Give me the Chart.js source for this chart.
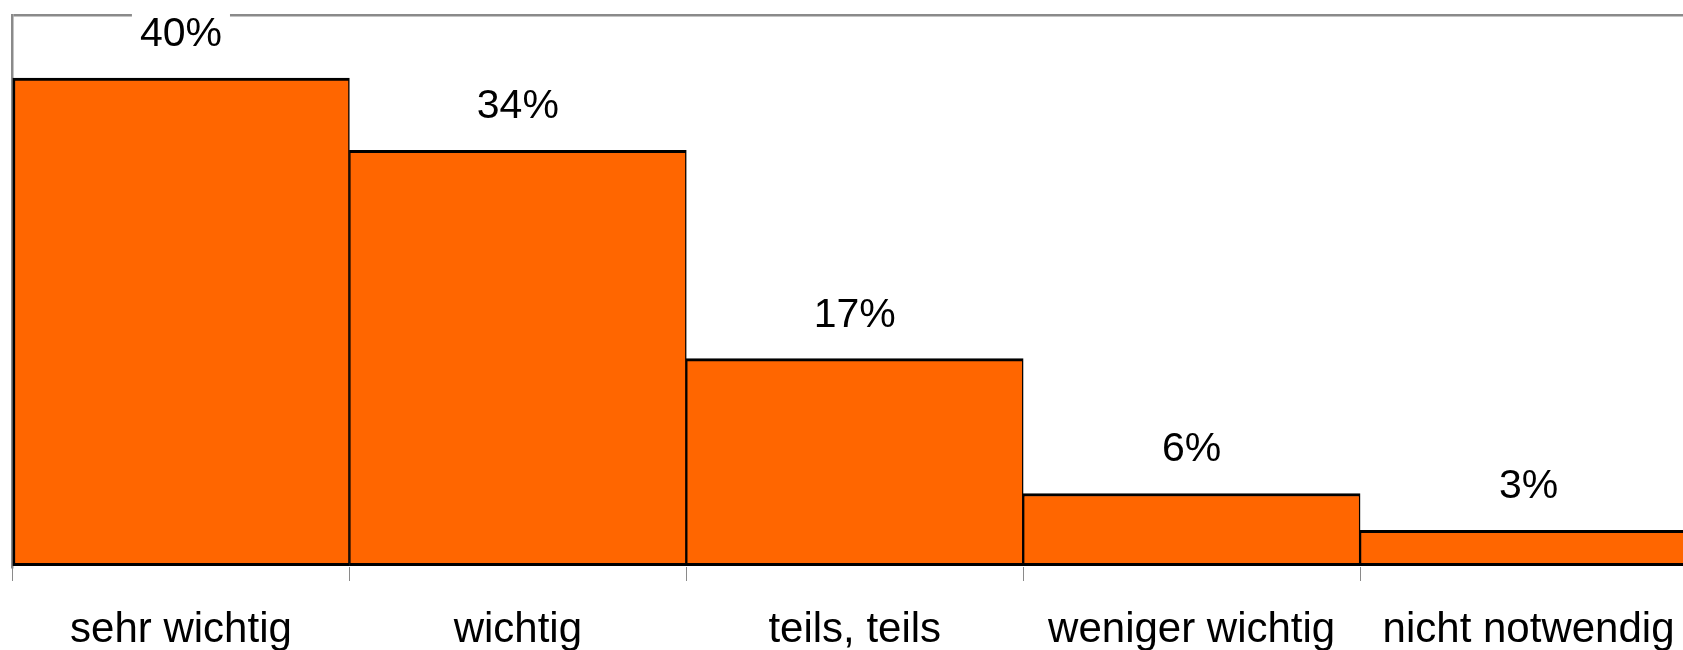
<!DOCTYPE html>
<html>
<head>
<meta charset="utf-8">
<script src="https://cdn.jsdelivr.net/npm/chart.js@4"></script>
<style>
  html, body { margin: 0; padding: 0; background: #fff; overflow: hidden; }
  #wrap { width: 1710px; height: 650px; }
</style>
</head>
<body>
<div id="wrap"><canvas id="chart" width="1710" height="650"></canvas></div>
<script>
// values (percent of answers)
const categories = ["sehr wichtig", "wichtig", "teils, teils", "weniger wichtig", "nicht notwendig"];
const shares = [39.9, 34.0, 17.0, 6.0, 3.0];
const yMax = 45;

const FONT = '"Liberation Sans", Arial, Helvetica, sans-serif';
const GRAY = "#8a8a8a";

// percent labels above the bars, on a white box (it breaks the top frame line)
const valueLabels = {
  id: "valueLabels",
  afterDatasetsDraw(chart){
    const ctx = chart.ctx;
    const meta = chart.getDatasetMeta(0);
    ctx.save();
    ctx.font = "41px " + FONT;
    ctx.textAlign = "center";
    ctx.textBaseline = "alphabetic";
    meta.data.forEach((bar, i) => {
      const text = Math.round(shares[i]) + "%";
      const base = bar.y - 32;
      const w = ctx.measureText(text).width + 16;
      ctx.fillStyle = "#fff";
      ctx.fillRect(bar.x - w / 2, base - 33, w, 39);
      ctx.fillStyle = "#000";
      ctx.fillText(text, bar.x, base);
    });
    ctx.restore();
  }
};

new Chart(document.getElementById("chart").getContext("2d"), {
  type: "bar",
  data: {
    labels: categories,
    datasets: [{
      data: shares,
      backgroundColor: "#ff6600",
      borderColor: "#000",
      borderWidth: (c) => ({ top: 3, bottom: 3, left: c.dataIndex === 0 ? 3 : 1.5, right: 1.5 }),
      borderSkipped: false,
      barPercentage: 1,
      categoryPercentage: 1
    }]
  },
  options: {
    responsive: false,
    animation: false,
    layout: { padding: { left: 12.5, top: 15.5, right: 13, bottom: 0 } },
    plugins: { legend: { display: false }, tooltip: { enabled: false } },
    scales: {
      x: {
        offset: true,
        grid: { offset: true, drawOnChartArea: false, tickLength: 14, color: GRAY, lineWidth: 1 },
        border: { display: false },
        ticks: { color: "#000", font: { size: 42, family: FONT }, padding: 24, maxRotation: 0, autoSkip: false },
        afterFit(scale){ scale.height = 83; }
      },
      y: {
        min: 0,
        max: yMax,
        ticks: { display: false, stepSize: yMax },
        grid: {
          drawTicks: false,
          lineWidth: 2.5,
          color: (c) => (c.tick && c.tick.value === yMax) ? GRAY : "rgba(0,0,0,0)"
        },
        border: { display: true, color: GRAY, width: 2.5 },
        afterFit(scale){ scale.width = 0; }
      }
    }
  },
  plugins: [valueLabels]
});
</script>
</body>
</html>
